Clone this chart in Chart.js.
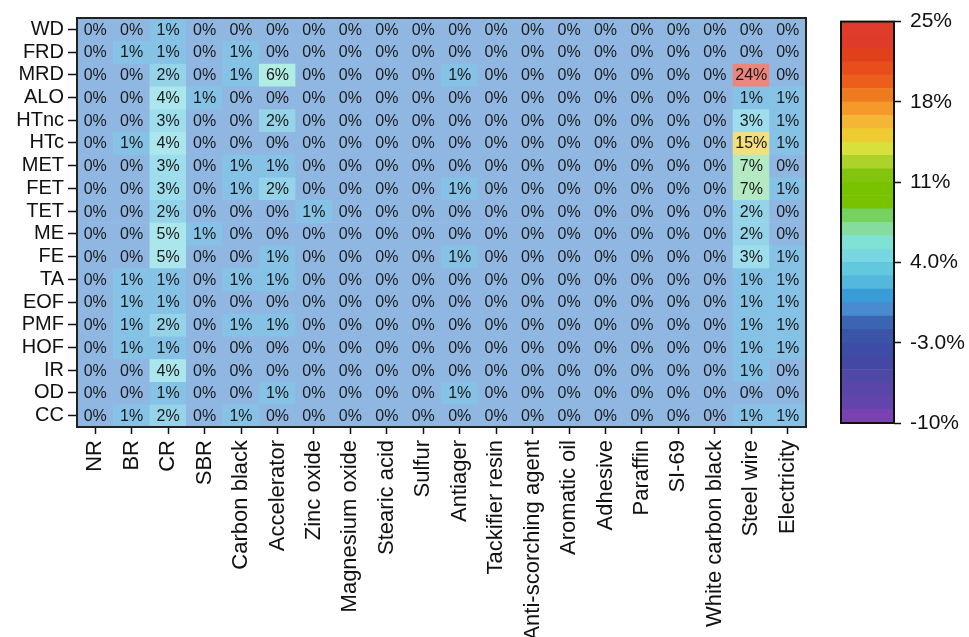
<!DOCTYPE html>
<html>
<head>
<meta charset="utf-8">
<script src="https://cdn.jsdelivr.net/npm/chart.js@4.4.0/dist/chart.umd.min.js"></script>
<style>
  body { margin: 0; background: #fff; }
  #wrap { position: relative; width: 969px; height: 637px; }
  #wrap canvas { position: absolute; left: 0; top: 0; }
</style>
</head>
<body>
<div id="wrap">
  <canvas id="heat" width="969" height="637"></canvas>
  <canvas id="scaleBar" width="969" height="637"></canvas>
</div>
<script>
// rows: process stages, columns: inputs
const rows = ['WD', 'FRD', 'MRD', 'ALO', 'HTnc', 'HTc', 'MET', 'FET', 'TET',
  'ME', 'FE', 'TA', 'EOF', 'PMF', 'HOF', 'IR', 'OD', 'CC'];
const cols = ['NR', 'BR', 'CR', 'SBR', 'Carbon black', 'Accelerator', 'Zinc oxide',
  'Magnesium oxide', 'Stearic acid', 'Sulfur', 'Antiager', 'Tackifier resin',
  'Anti-scorching agent', 'Aromatic oil', 'Adhesive', 'Paraffin', 'SI-69',
  'White carbon black', 'Steel wire', 'Electricity'];

// share (%) per row, one entry per column
const wd   = [0, 0, 1, 0, 0, 0, 0, 0, 0, 0, 0, 0, 0, 0, 0, 0, 0, 0, 0, 0];
const frd  = [0, 1, 1, 0, 1, 0, 0, 0, 0, 0, 0, 0, 0, 0, 0, 0, 0, 0, 0, 0];
const mrd  = [0, 0, 2, 0, 1, 6, 0, 0, 0, 0, 1, 0, 0, 0, 0, 0, 0, 0, 24, 0];
const alo  = [0, 0, 4, 1, 0, 0, 0, 0, 0, 0, 0, 0, 0, 0, 0, 0, 0, 0, 1, 1];
const htnc = [0, 0, 3, 0, 0, 2, 0, 0, 0, 0, 0, 0, 0, 0, 0, 0, 0, 0, 3, 1];
const htc  = [0, 1, 4, 0, 0, 0, 0, 0, 0, 0, 0, 0, 0, 0, 0, 0, 0, 0, 15, 1];
const met  = [0, 0, 3, 0, 1, 1, 0, 0, 0, 0, 0, 0, 0, 0, 0, 0, 0, 0, 7, 0];
const fet  = [0, 0, 3, 0, 1, 2, 0, 0, 0, 0, 1, 0, 0, 0, 0, 0, 0, 0, 7, 1];
const tet  = [0, 0, 2, 0, 0, 0, 1, 0, 0, 0, 0, 0, 0, 0, 0, 0, 0, 0, 2, 0];
const me   = [0, 0, 5, 1, 0, 0, 0, 0, 0, 0, 0, 0, 0, 0, 0, 0, 0, 0, 2, 0];
const fe   = [0, 0, 5, 0, 0, 1, 0, 0, 0, 0, 1, 0, 0, 0, 0, 0, 0, 0, 3, 1];
const ta   = [0, 1, 1, 0, 1, 1, 0, 0, 0, 0, 0, 0, 0, 0, 0, 0, 0, 0, 1, 1];
const eof  = [0, 1, 1, 0, 0, 0, 0, 0, 0, 0, 0, 0, 0, 0, 0, 0, 0, 0, 1, 1];
const pmf  = [0, 1, 2, 0, 1, 1, 0, 0, 0, 0, 0, 0, 0, 0, 0, 0, 0, 0, 1, 1];
const hof  = [0, 1, 1, 0, 0, 0, 0, 0, 0, 0, 0, 0, 0, 0, 0, 0, 0, 0, 1, 1];
const ir   = [0, 0, 4, 0, 0, 0, 0, 0, 0, 0, 0, 0, 0, 0, 0, 0, 0, 0, 1, 0];
const od   = [0, 0, 1, 0, 0, 1, 0, 0, 0, 0, 1, 0, 0, 0, 0, 0, 0, 0, 0, 0];
const cc   = [0, 1, 2, 0, 1, 0, 0, 0, 0, 0, 0, 0, 0, 0, 0, 0, 0, 0, 1, 1];
const values = [wd, frd, mrd, alo, htnc, htc, met, fet, tet, me, fe, ta, eof, pmf, hof, ir, od, cc];

// colour scale
const cbMin = -10;
const cbMax = 25;
const cbTicks = [-10, -3, 4, 11, 18, 25];
const cbTickLabels = ['-10%', '-3.0%', '4.0%', '11%', '18%', '25%'];
const palette = [
  '#7a42b0', '#6244ac', '#5a45a8', '#5048a5', '#4448a5', '#3d4ca6', '#3a55a8', '#3b64b2',
  '#4a8bd0', '#3a9cd6', '#54b8dc', '#62c8de', '#78d6e0', '#80e2d2', '#84dc9e', '#77d15e',
  '#78c200', '#78c200', '#84c40f', '#add22a', '#d8e03c', '#eecb30', '#f5b535', '#f5992a',
  '#ee7b1f', '#ec5e1c', '#e84e1c', '#e0401c', '#de3b2b', '#e03c2e'
];

const FONT = 'Arial, "Liberation Sans", sans-serif';
Chart.defaults.font.family = FONT;
Chart.defaults.color = '#111';

function bandOf(v) {
  const k = Math.floor((v - cbMin) / (cbMax - cbMin) * palette.length);
  return Math.max(0, Math.min(palette.length - 1, k));
}

// cells use a washed-out version of the scale colour
function cellColor(v) {
  const hex = palette[bandOf(v)];
  const a = 0.62;
  const mix = i => Math.round(parseInt(hex.slice(i, i + 2), 16) * a + 255 * (1 - a));
  return `rgb(${mix(1)},${mix(3)},${mix(5)})`;
}

const cellText = {
  id: 'cellText',
  afterDatasetsDraw(chart) {
    const { ctx, chartArea, scales: { x, y } } = chart;
    ctx.save();
    ctx.font = '16px ' + FONT;
    ctx.fillStyle = '#1a1a1a';
    ctx.textAlign = 'center';
    ctx.textBaseline = 'middle';
    values.forEach((row, i) => {
      row.forEach((v, j) => {
        ctx.fillText(v + '%', x.getPixelForValue(j), y.getPixelForValue(i + 0.5) + 1);
      });
    });
    ctx.lineWidth = 2;
    ctx.strokeStyle = '#222';
    ctx.strokeRect(chartArea.left, chartArea.top, chartArea.width, chartArea.height);
    ctx.restore();
  }
};

const frame = {
  id: 'frame',
  afterDatasetsDraw(chart) {
    const { ctx, chartArea } = chart;
    ctx.save();
    ctx.lineWidth = 2;
    ctx.strokeStyle = '#111';
    ctx.strokeRect(chartArea.left, chartArea.top, chartArea.width, chartArea.height);
    ctx.restore();
  }
};

new Chart(document.getElementById('heat'), {
  type: 'bar',
  data: {
    labels: cols,
    datasets: values.map((row, i) => ({
      label: rows[i],
      data: row.map(() => [i, i + 1]),
      backgroundColor: row.map(cellColor),
      borderWidth: 0,
      barPercentage: 1,
      categoryPercentage: 1,
      grouped: false
    }))
  },
  options: {
    responsive: false,
    animation: false,
    events: [],
    layout: { padding: { left: 0, top: 18, right: 163, bottom: 0 } },
    plugins: { legend: { display: false }, tooltip: { enabled: false } },
    scales: {
      x: {
        ticks: { autoSkip: false, minRotation: 90, maxRotation: 90, padding: 6, font: { size: 22 } },
        grid: { offset: false, drawOnChartArea: false, tickLength: 7, tickColor: '#111', tickWidth: 1.5 },
        border: { display: false },
        afterFit: s => { s.height = 210; }
      },
      y: {
        min: 0,
        max: rows.length,
        reverse: true,
        afterBuildTicks: s => { s.ticks = rows.map((r, i) => ({ value: i + 0.5 })); },
        ticks: { autoSkip: false, padding: 4, font: { size: 20 }, callback: (v, i) => rows[i] },
        grid: { drawOnChartArea: false, tickLength: 9, tickColor: '#111', tickWidth: 1.5 },
        border: { display: false },
        afterFit: s => { s.width = 77; }
      }
    }
  },
  plugins: [cellText]
});

// colour bar
const bandSize = (cbMax - cbMin) / palette.length;
new Chart(document.getElementById('scaleBar'), {
  type: 'bar',
  data: {
    labels: [''],
    datasets: palette.map((c, k) => ({
      data: [[cbMin + k * bandSize, cbMin + (k + 1) * bandSize]],
      backgroundColor: c,
      borderWidth: 0,
      barPercentage: 1,
      categoryPercentage: 1,
      grouped: false
    }))
  },
  options: {
    responsive: false,
    animation: false,
    events: [],
    layout: { padding: { left: 841, top: 21, right: 0, bottom: 214 } },
    plugins: { legend: { display: false }, tooltip: { enabled: false } },
    scales: {
      x: { display: false },
      y: {
        position: 'right',
        min: cbMin,
        max: cbMax,
        afterBuildTicks: s => { s.ticks = cbTicks.map(v => ({ value: v })); },
        ticks: { autoSkip: false, padding: 9, font: { size: 21 }, callback: (v, i) => cbTickLabels[i] },
        grid: { drawOnChartArea: false, tickLength: 7, tickColor: '#111', tickWidth: 1.5 },
        border: { display: false },
        afterFit: s => { s.width = 75; }
      }
    }
  },
  plugins: [frame]
});
</script>
</body>
</html>
